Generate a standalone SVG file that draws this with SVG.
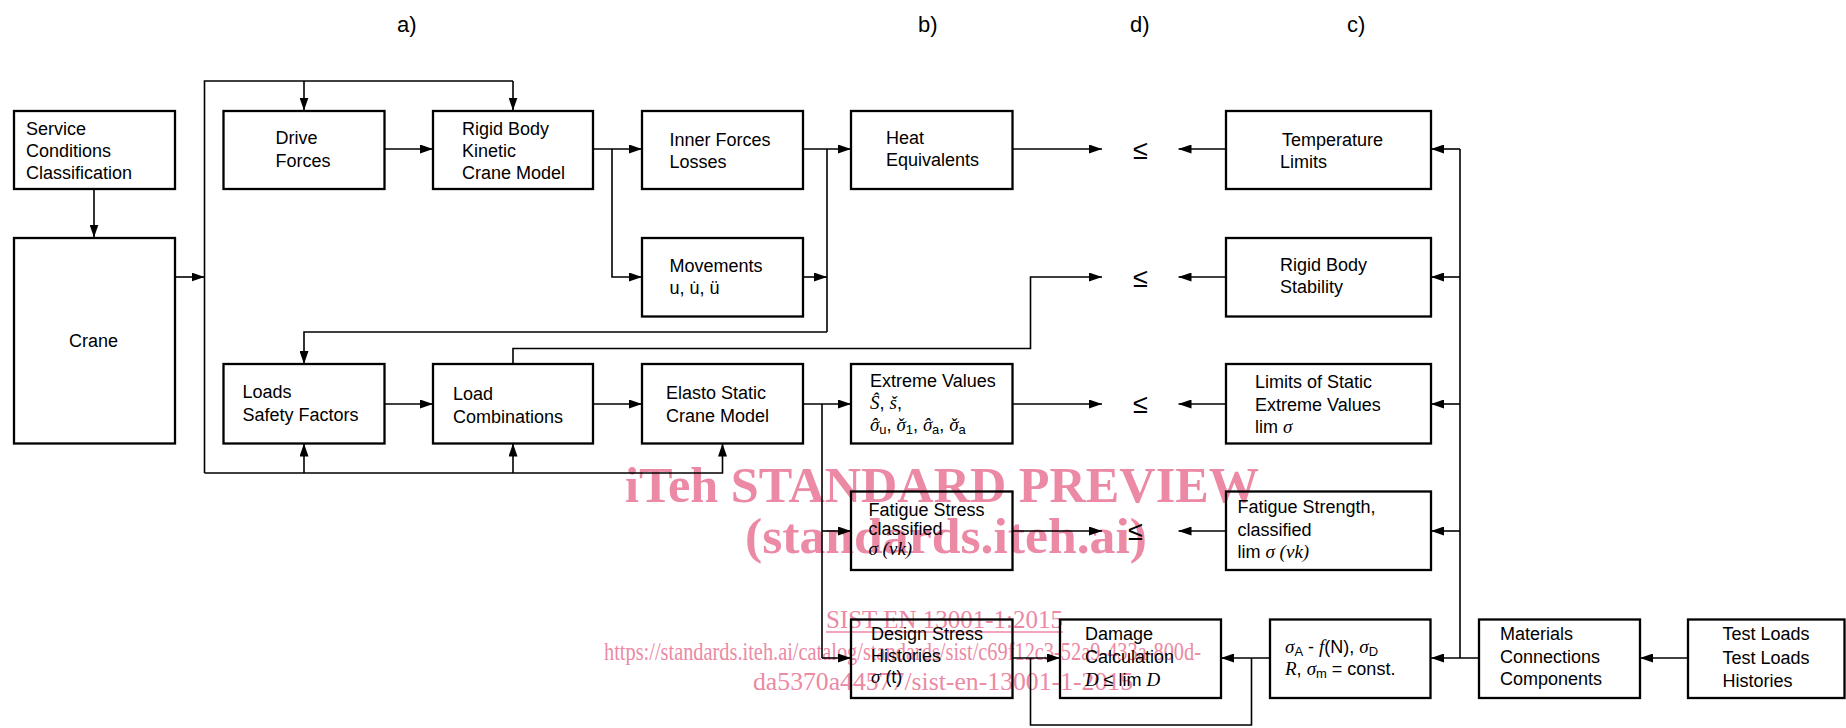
<svg xmlns="http://www.w3.org/2000/svg" width="1846" height="728" viewBox="0 0 1846 728">
<style>
.bx{fill:none;stroke:#000;stroke-width:2.3}
.ln{fill:none;stroke:#000;stroke-width:1.6}
.ar{marker-end:url(#ah)}
text{font-family:"Liberation Sans",Arial,sans-serif;font-size:18px;fill:#000}
.lab{font-size:22px}
.le{font-size:27px}
.m{font-family:"Liberation Serif","Times New Roman",serif;font-style:italic;font-size:19px}
.sb{font-size:13px}
.wm{font-family:"Liberation Serif","Times New Roman",serif;fill:#ec89a4}
.wb{font-weight:bold;font-size:50px}
.ws{font-size:25px}
</style>
<defs>
<marker id="ah" viewBox="0 0 13 9" refX="13" refY="4.5" markerWidth="13" markerHeight="9" markerUnits="userSpaceOnUse" orient="auto"><path d="M0,0 L13,4.5 L0,9 z" fill="#000"/></marker>
</defs>

<g id="watermark">
<text class="wm wb" x="625" y="502" textLength="634" lengthAdjust="spacingAndGlyphs">iTeh STANDARD PREVIEW</text>
<text class="wm wb" x="745" y="553" textLength="402" lengthAdjust="spacingAndGlyphs">(standards.iteh.ai)</text>
<text class="wm ws" x="826" y="628" textLength="237" lengthAdjust="spacingAndGlyphs">SIST EN 13001-1:2015</text>
<line x1="826" y1="632" x2="1063" y2="632" stroke="#ec89a4" stroke-width="1.5"/>
<text class="wm ws" x="604" y="660" textLength="597" lengthAdjust="spacingAndGlyphs">https://standards.iteh.ai/catalog/standards/sist/c69f12c3-52a9-433a-800d-</text>
<text class="wm ws" x="753" y="690" textLength="380" lengthAdjust="spacingAndGlyphs">da5370a44577/sist-en-13001-1-2015</text>
</g>

<g id="labels">
<text class="lab" x="397" y="32">a)</text>
<text class="lab" x="918" y="32">b)</text>
<text class="lab" x="1130" y="32">d)</text>
<text class="lab" x="1347" y="32">c)</text>
<text class="le" x="1133" y="159">≤</text>
<text class="le" x="1133" y="287">≤</text>
<text class="le" x="1133" y="413">≤</text>
<text class="le" x="1128" y="540">≤</text>
</g>

<g id="connectors">
<line class="ln ar" x1="94" y1="189" x2="94" y2="237.5"/>
<line class="ln ar" x1="175" y1="277" x2="204.5" y2="277"/>
<polyline class="ln" points="204.5,473 204.5,81 513,81"/>
<line class="ln ar" x1="304" y1="81" x2="304" y2="110.5"/>
<line class="ln ar" x1="513" y1="81" x2="513" y2="110.5"/>
<line class="ln ar" x1="384.5" y1="149" x2="433" y2="149"/>
<line class="ln ar" x1="593" y1="149" x2="642" y2="149"/>
<polyline class="ln ar" points="612,149 612,277 642,277"/>
<line class="ln ar" x1="803" y1="149" x2="851" y2="149"/>
<line class="ln" x1="827" y1="149" x2="827" y2="332"/>
<line class="ln ar" x1="803" y1="277" x2="827" y2="277"/>
<polyline class="ln ar" points="827,332 304,332 304,364"/>
<line class="ln ar" x1="1012.5" y1="149" x2="1102" y2="149"/>
<polyline class="ln ar" points="513,364 513,348.5 1030.5,348.5 1030.5,277 1102,277"/>
<line class="ln ar" x1="384.5" y1="404" x2="433" y2="404"/>
<line class="ln ar" x1="593" y1="404" x2="642" y2="404"/>
<line class="ln ar" x1="803" y1="404" x2="851" y2="404"/>
<line class="ln" x1="822" y1="404" x2="822" y2="658"/>
<line class="ln ar" x1="822" y1="531" x2="851" y2="531"/>
<line class="ln ar" x1="822" y1="658" x2="851" y2="658"/>
<line class="ln ar" x1="1012.5" y1="404" x2="1102" y2="404"/>
<line class="ln ar" x1="1012.5" y1="531" x2="1102" y2="531"/>
<polyline class="ln ar" points="204.5,473 722.5,473 722.5,443.5"/>
<line class="ln ar" x1="304" y1="473" x2="304" y2="443.5"/>
<line class="ln ar" x1="513" y1="473" x2="513" y2="443.5"/>
<line class="ln ar" x1="1012.5" y1="658" x2="1060" y2="658"/>
<polyline class="ln" points="1030.5,658 1030.5,725 1251.5,725 1251.5,658"/>
<line class="ln ar" x1="1270" y1="658" x2="1221" y2="658"/>
<line class="ln ar" x1="1226" y1="149" x2="1178.5" y2="149"/>
<line class="ln ar" x1="1226" y1="277" x2="1178.5" y2="277"/>
<line class="ln ar" x1="1226" y1="404" x2="1178.5" y2="404"/>
<line class="ln ar" x1="1226" y1="531" x2="1178.5" y2="531"/>
<line class="ln" x1="1460" y1="149" x2="1460" y2="658"/>
<line class="ln ar" x1="1460" y1="149" x2="1431" y2="149"/>
<line class="ln ar" x1="1460" y1="277" x2="1431" y2="277"/>
<line class="ln ar" x1="1460" y1="404" x2="1431" y2="404"/>
<line class="ln ar" x1="1460" y1="531" x2="1431" y2="531"/>
<line class="ln ar" x1="1479" y1="658" x2="1431" y2="658"/>
<line class="ln ar" x1="1688" y1="658" x2="1640" y2="658"/>
</g>

<g id="service">
<rect class="bx" x="14" y="111" width="161" height="78"/>
<text x="26" y="135">Service</text><text x="26" y="157">Conditions</text><text x="26" y="179">Classification</text>
</g>
<g id="crane">
<rect class="bx" x="14" y="238" width="161" height="205.5"/>
<text x="69" y="347">Crane</text>
</g>
<g id="drive">
<rect class="bx" x="223.5" y="111" width="161" height="78"/>
<text x="275.5" y="144">Drive</text><text x="275.5" y="166.5">Forces</text>
</g>
<g id="rigidkinetic">
<rect class="bx" x="433" y="111" width="160" height="78"/>
<text x="462" y="135">Rigid Body</text><text x="462" y="157">Kinetic</text><text x="462" y="179">Crane Model</text>
</g>
<g id="inner">
<rect class="bx" x="642" y="111" width="161" height="78"/>
<text x="669.5" y="145.5">Inner Forces</text><text x="669.5" y="167.5">Losses</text>
</g>
<g id="heat">
<rect class="bx" x="851" y="111" width="161.5" height="78"/>
<text x="886" y="144">Heat</text><text x="886" y="166">Equivalents</text>
</g>
<g id="temperature">
<rect class="bx" x="1226" y="111" width="205" height="78"/>
<text x="1282" y="145.5">Temperature</text><text x="1280" y="167.5">Limits</text>
</g>
<g id="movements">
<rect class="bx" x="642" y="238" width="161" height="78.5"/>
<text x="669.5" y="271.5">Movements</text><text x="669.5" y="294">u, u̇, ü</text>
</g>
<g id="stability">
<rect class="bx" x="1226" y="238" width="205" height="78.5"/>
<text x="1280" y="271">Rigid Body</text><text x="1280" y="293">Stability</text>
</g>
<g id="loads">
<rect class="bx" x="223.5" y="364" width="161" height="79.5"/>
<text x="242.5" y="398">Loads</text><text x="242.5" y="421">Safety Factors</text>
</g>
<g id="loadcomb">
<rect class="bx" x="433" y="364" width="160" height="79.5"/>
<text x="453" y="400">Load</text><text x="453" y="422.5">Combinations</text>
</g>
<g id="elasto">
<rect class="bx" x="642" y="364" width="161" height="79.5"/>
<text x="666" y="399">Elasto Static</text><text x="666" y="421.5">Crane Model</text>
</g>
<g id="extreme">
<rect class="bx" x="851" y="364" width="161.5" height="79.5"/>
<text x="870" y="387">Extreme Values</text>
<text x="870" y="409"><tspan class="m">Ŝ</tspan>, <tspan class="m">š</tspan>,</text>
<text x="870" y="431"><tspan class="m">σ</tspan><tspan class="m" dx="-8.5">ˆ</tspan><tspan class="sb" dx="2" dy="3">u</tspan><tspan dy="-3">, </tspan><tspan class="m">σ</tspan><tspan class="m" dx="-8.5">ˇ</tspan><tspan class="sb" dx="2" dy="3">1</tspan><tspan dy="-3">, </tspan><tspan class="m">σ</tspan><tspan class="m" dx="-8.5">ˆ</tspan><tspan class="sb" dx="2" dy="3">a</tspan><tspan dy="-3">, </tspan><tspan class="m">σ</tspan><tspan class="m" dx="-8.5">ˇ</tspan><tspan class="sb" dx="2" dy="3">a</tspan></text>
</g>
<g id="limitsstatic">
<rect class="bx" x="1226" y="364" width="205" height="79.5"/>
<text x="1255" y="388">Limits of Static</text><text x="1255" y="410.5">Extreme Values</text>
<text x="1255" y="432.5">lim <tspan class="m">σ</tspan></text>
</g>
<g id="fatiguestress">
<rect class="bx" x="851" y="491.5" width="161.5" height="78.5"/>
<text x="868.5" y="516">Fatigue Stress</text><text x="868.5" y="535">classified</text>
<text x="868.5" y="555"><tspan class="m">σ (νk)</tspan></text>
</g>
<g id="fatiguestrength">
<rect class="bx" x="1226" y="491.5" width="205" height="78.5"/>
<text x="1237.5" y="513">Fatigue Strength,</text><text x="1237.5" y="536">classified</text>
<text x="1237.5" y="558">lim <tspan class="m">σ (νk)</tspan></text>
</g>
<g id="design">
<rect class="bx" x="851" y="619.5" width="161.5" height="78.5"/>
<text x="871" y="640">Design Stress</text><text x="871" y="662">Histories</text>
<text x="871" y="683"><tspan class="m">σ</tspan> (t)</text>
</g>
<g id="damage">
<rect class="bx" x="1060" y="619.5" width="161" height="78.5"/>
<text x="1085" y="640">Damage</text><text x="1085" y="663">Calculation</text>
<text x="1085" y="686"><tspan class="m">D</tspan> ≤ lim <tspan class="m">D</tspan></text>
</g>
<g id="sigmaA">
<rect class="bx" x="1270" y="619.5" width="160.5" height="78.5"/>
<text x="1285" y="653"><tspan class="m">σ</tspan><tspan class="sb" dy="3">A</tspan><tspan dy="-3"> - </tspan><tspan class="m">f</tspan>(N), <tspan class="m">σ</tspan><tspan class="sb" dy="3">D</tspan></text>
<text x="1285" y="675"><tspan class="m">R</tspan>, <tspan class="m">σ</tspan><tspan class="sb" dy="3">m</tspan><tspan dy="-3"> = const.</tspan></text>
</g>
<g id="materials">
<rect class="bx" x="1479" y="619.5" width="161" height="78.5"/>
<text x="1500" y="640">Materials</text><text x="1500" y="662.5">Connections</text><text x="1500" y="685">Components</text>
</g>
<g id="testloads">
<rect class="bx" x="1688" y="619.5" width="156.5" height="78.5"/>
<text x="1722.5" y="640">Test Loads</text><text x="1722.5" y="664">Test Loads</text><text x="1722.5" y="686.5">Histories</text>
</g>
</svg>
